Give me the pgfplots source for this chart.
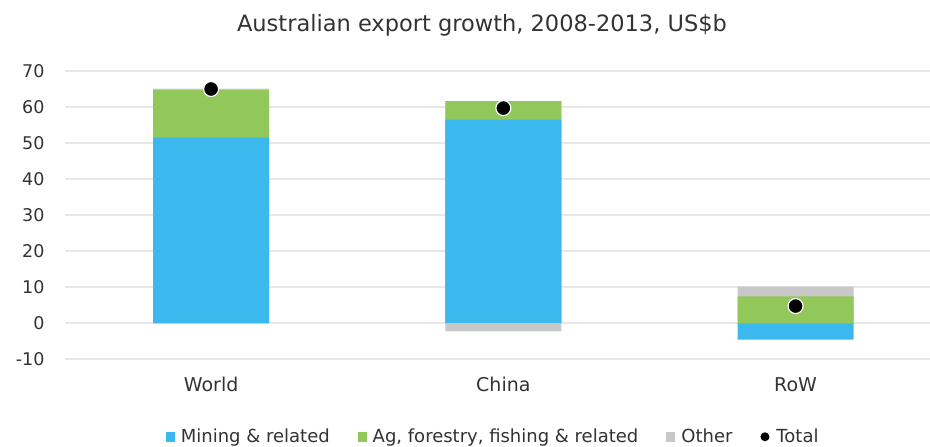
\documentclass[border=0pt]{standalone}
\usepackage{pgfplots}
\pgfplotsset{compat=1.18}
\usepackage{fontspec}
\setmainfont{DejaVu Sans}
\definecolor{cMin}{HTML}{3BB9EF}
\definecolor{cAg}{HTML}{92C85A}
\definecolor{cOth}{HTML}{C8C8C8}
\definecolor{cGrid}{HTML}{E8E8E8}
\definecolor{cTxt}{HTML}{333333}
\begin{document}
\begin{tikzpicture}
\path[use as bounding box] (-65pt,-88pt) rectangle (865pt,359pt);
\begin{axis}[
  at={(0pt,0pt)}, anchor=south west,
  scale only axis, width=865pt, height=288pt,
  xmin=-0.5, xmax=2.46, ymin=-10, ymax=70,
  ytick={-10,0,...,70},
  xtick={0,1,2}, xticklabels={World,China,RoW},
  axis line style={draw=none},
  major tick length=0pt,
  ymajorgrids, grid style={cGrid, line width=2pt},
  ybar, bar shift=0pt, bar width=116pt,
  tick label style={font=\fontsize{17.5}{20}\selectfont, text=cTxt},
  /pgf/number format/assume math mode=true,
  yticklabel style={xshift=-17pt},
  xticklabel style={yshift=-15pt, font=\fontsize{19}{22}\selectfont},
  clip=false,
  legend style={at={(0.495,-0.27)}, anchor=center, draw=none, font=\fontsize{18}{21}\selectfont, text=cTxt, legend columns=4,
    /tikz/every even column/.append style={column sep=26pt}},
  legend image code/.code={\fill[#1] (0pt,-5pt) rectangle (9pt,5pt); \path[draw=none,fill=none] (0pt,0pt) -- (13pt,0pt);},
]
% cumulative tops of the positive stack (mining, + ag, + other) and negative parts
\addplot[fill=cOth, draw=none, forget plot] coordinates {(0,65.1) (1,61.6) (2,10.1)};
\addplot[fill=cAg, draw=none, forget plot] coordinates {(0,64.7) (1,61.6) (2,7.4)};
\addplot[fill=cMin, draw=none] coordinates {(0,51.5) (1,56.5) (2,-4.6)};
\addlegendentry{Mining \& related}
\addplot[fill=cOth, draw=none, forget plot] coordinates {(0,0) (1,-2.3) (2,0)};
\addlegendimage{fill=cAg, draw=none}
\addlegendentry{Ag, forestry, fishing \& related}
\addlegendimage{fill=cOth, draw=none}
\addlegendentry{Other}
\addplot[only marks, mark=*, mark size=7.5pt, mark options={fill=black, draw=white, line width=1.2pt},
  legend image code/.code={\fill[black,draw=none] (4.5pt,0pt) circle (4.5pt); \path[draw=none,fill=none] (0pt,0pt) -- (14pt,0pt);}]
  coordinates {(0,65) (1,59.7) (2,4.7)};
\addlegendentry{Total}
\end{axis}
\node[font=\fontsize{22.5}{26}\selectfont, text=cTxt] at (417pt,334pt) {Australian export growth, 2008-2013, US\$b};
\end{tikzpicture}
\end{document}
